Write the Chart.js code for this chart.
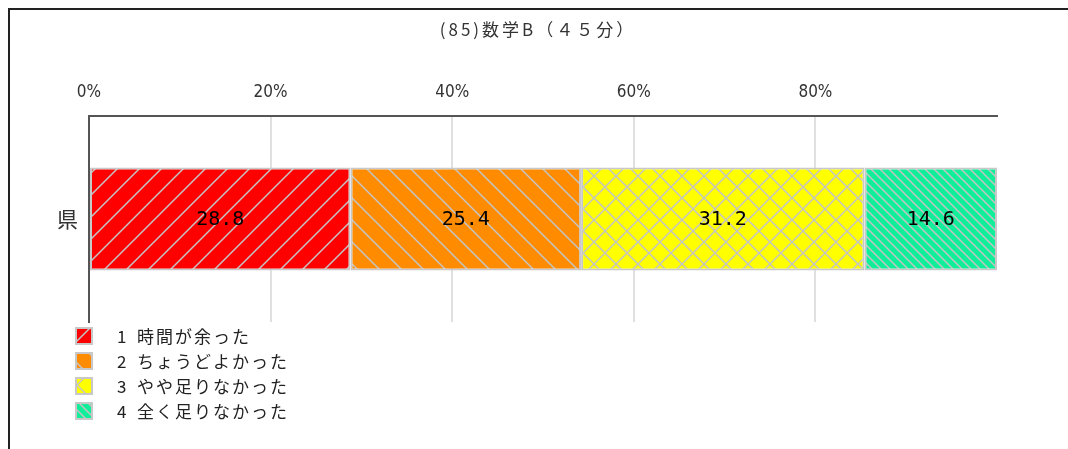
<!DOCTYPE html>
<html>
<head>
<meta charset="utf-8">
<script src="https://cdn.jsdelivr.net/npm/chart.js@4.4.0/dist/chart.umd.min.js"></script>
<style>
  html, body { margin: 0; padding: 0; background: #fff; }
  #wrap { position: relative; width: 1068px; height: 449px; overflow: hidden; }
  #frame {
    position: absolute; left: 8px; top: 8px; right: -10px; bottom: -10px;
    border-left: 2px solid #222; border-top: 2px solid #222;
  }
  #chart { position: absolute; left: 0; top: 0; }
</style>
</head>
<body>
<div id="wrap">
  <div id="frame"></div>
  <canvas id="chart" width="1068" height="449"></canvas>
</div>
<script>
// Data
const titleText = "(85)数学B（４５分）";
const categories = ["県"];
const seriesNames = ["1 時間が余った", "2 ちょうどよかった", "3 やや足りなかった", "4 全く足りなかった"];
const time_over = [28.8];
const just_right = [25.4];
const bit_short = [31.2];
const very_short = [14.6];
const xTicks = [0, 20, 40, 60, 80];

const jpFont = "'Noto Sans CJK JP', 'Noto Sans', sans-serif";
const hatchColor = "#c4c4c4";

// hatch patterns
function makePattern(bg, size, kind) {
  const c = document.createElement("canvas");
  c.width = size;
  c.height = size;
  const g = c.getContext("2d");
  g.fillStyle = bg;
  g.fillRect(0, 0, size, size);
  g.strokeStyle = hatchColor;
  g.lineWidth = 1.5;
  g.beginPath();
  if (kind === "up" || kind === "cross") {
    g.moveTo(-2, size + 2); g.lineTo(size + 2, -2);
    g.moveTo(-2, 2); g.lineTo(2, -2);
    g.moveTo(size - 2, size + 2); g.lineTo(size + 2, size - 2);
  }
  if (kind === "down" || kind === "cross") {
    g.moveTo(-2, -2); g.lineTo(size + 2, size + 2);
    g.moveTo(size - 2, -2); g.lineTo(size + 2, 2);
    g.moveTo(-2, size - 2); g.lineTo(2, size + 2);
  }
  g.stroke();
  return g.createPattern(c, "repeat");
}

const fills = [
  makePattern("#ff0000", 22, "up"),
  makePattern("#ff8c00", 22, "down"),
  makePattern("#ffff00", 22, "cross"),
  makePattern("#11ee99", 9, "down"),
];

const values = [time_over, just_right, bit_short, very_short];

const data = {
  labels: categories,
  datasets: values.map((v, i) => ({
    label: seriesNames[i],
    data: v,
    backgroundColor: fills[i],
    borderColor: "#c8c8c8",
    borderWidth: 2,
    borderSkipped: false,
    barPercentage: 0.5,
    categoryPercentage: 1,
  })),
};

// title centred over the whole frame
const frameTitle = {
  id: "frameTitle",
  afterDraw(chart) {
    const ctx = chart.ctx;
    ctx.save();
    ctx.font = "17px " + jpFont;
    ctx.letterSpacing = "3px";
    ctx.fillStyle = "#333";
    ctx.textAlign = "center";
    ctx.textBaseline = "middle";
    ctx.fillText(titleText, 538, 30);
    ctx.restore();
  },
};

// value labels inside the segments
const valueLabels = {
  id: "valueLabels",
  afterDatasetsDraw(chart) {
    const ctx = chart.ctx;
    ctx.save();
    ctx.font = "20px 'DejaVu Sans Mono', 'Liberation Mono', monospace";
    ctx.fillStyle = "#000";
    ctx.textAlign = "center";
    ctx.textBaseline = "middle";
    chart.data.datasets.forEach((ds, i) => {
      chart.getDatasetMeta(i).data.forEach((el, j) => {
        ctx.fillText(ds.data[j].toFixed(1), (el.x + el.base) / 2, el.y + 1);
      });
    });
    ctx.restore();
  },
};

// vertical legend under the plot
const sideLegend = {
  id: "sideLegend",
  afterDraw(chart) {
    const ctx = chart.ctx;
    const x0 = 76, y0 = 328, row = 25, box = 16;
    ctx.save();
    ctx.font = "17px " + jpFont;
    ctx.letterSpacing = "2px";
    ctx.textBaseline = "middle";
    ctx.textAlign = "left";
    chart.data.datasets.forEach((ds, i) => {
      const y = y0 + i * row;
      ctx.fillStyle = ds.backgroundColor;
      ctx.fillRect(x0, y, box, box);
      ctx.strokeStyle = "#c8c8c8";
      ctx.lineWidth = 2;
      ctx.strokeRect(x0, y, box, box);
      ctx.fillStyle = "#222";
      const parts = ds.label.split(" ");
      ctx.fillText(parts[0], x0 + 41, y + box / 2 + 1);
      ctx.fillText(parts[1], x0 + 61, y + box / 2 + 1);
    });
    ctx.restore();
  },
};

const config = {
  type: "bar",
  data: data,
  options: {
    indexAxis: "y",
    responsive: false,
    animation: false,
    layout: {
      padding: { left: 10, right: 71, top: 0, bottom: 127 },
    },
    plugins: {
      legend: { display: false },
      tooltip: { enabled: false },
      title: { display: false },
    },
    scales: {
      x: {
        position: "top",
        stacked: true,
        min: 0,
        max: 100,
        afterBuildTicks: (scale) => {
          scale.ticks = xTicks.concat([100]).map((v) => ({ value: v }));
        },
        afterFit: (scale) => {
          scale.height = 116;
        },
        ticks: {
          color: "#333",
          padding: 13,
          maxRotation: 0,
          font: { family: "'Liberation Sans Narrow', 'DejaVu Sans Condensed', sans-serif", size: 17 },
          callback: (v) => (xTicks.includes(v) ? v + "%" : ""),
        },
        grid: {
          drawTicks: false,
          lineWidth: 2,
          color: (c) =>
            c.tick && (c.tick.value === 0 || c.tick.value === 100) ? "rgba(0,0,0,0)" : "#e0e0e0",
        },
        border: { display: true, color: "#555", width: 2 },
      },
      y: {
        stacked: true,
        afterFit: (scale) => {
          scale.width = 79;
        },
        ticks: {
          color: "#333",
          padding: 11,
          font: { family: jpFont, size: 21 },
        },
        grid: { display: false, drawTicks: false },
        border: { display: true, color: "#555", width: 2 },
      },
    },
  },
  plugins: [frameTitle, valueLabels, sideLegend],
};

const chartContext = document.getElementById("chart");
const surveyChart = new Chart(chartContext, config);
</script>
</body>
</html>
